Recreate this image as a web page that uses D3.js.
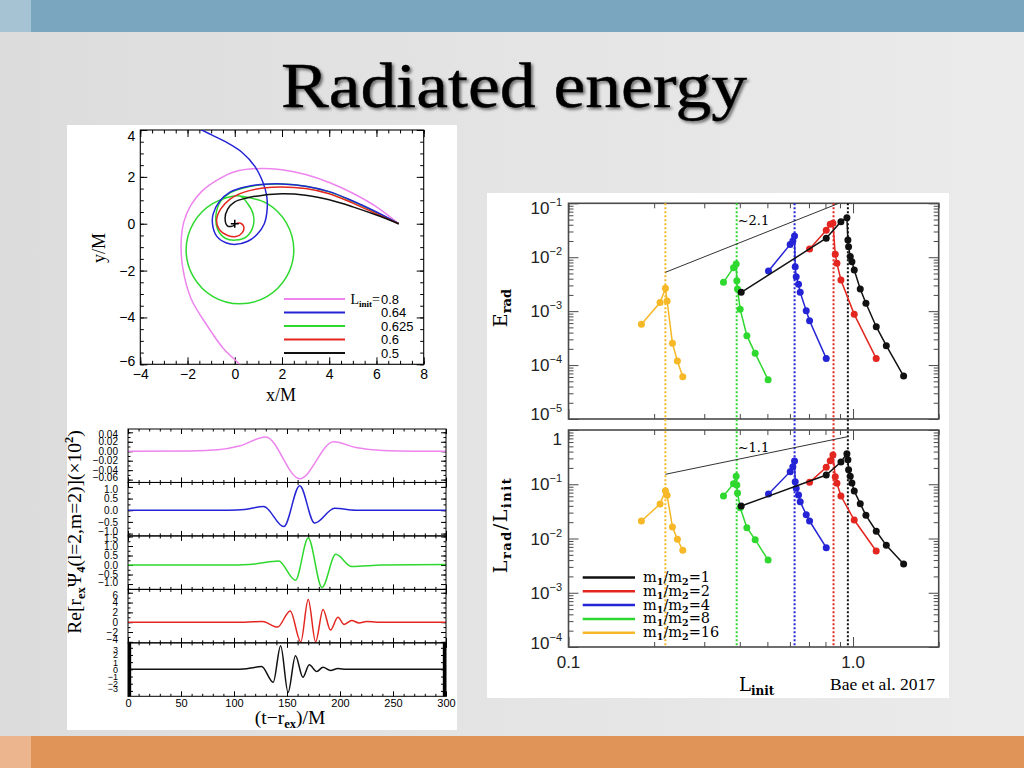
<!DOCTYPE html>
<html><head><meta charset="utf-8">
<script src="https://cdn.jsdelivr.net/npm/d3@7/dist/d3.min.js"></script>
<style>html,body{margin:0;padding:0;background:#e4e4e4}svg{display:block}</style>
</head><body><svg id="chart" width="1024" height="768"></svg>
<script>
// ================= DATA =================
const titleText = "Radiated energy";

// --- orbit panel: tracks in (x/M, y/M) for each L_init ---
const orbitLegendLabels = ["0.8", "0.64", "0.625", "0.6", "0.5"];
const orbitL080 = [[6.94,0],[6,0.72],[5,1.3],[4,1.76],[3,2.1],[2,2.3],[1.1,2.36],[0,2.22],[-0.75,1.86],[-1.4,1.38],[-1.85,0.8],[-2.15,0.1],[-2.27,-0.77],[-2.2,-1.9],[-1.85,-3.2],[-1.2,-4.3],[-0.5,-5.3],[0.3,-6.1],[0.6,-6.5]];
const orbitL064 = [[6.94,0],[6,0.5],[5,0.97],[4,1.37],[3,1.6],[2,1.7],[1.2,1.68],[0.5,1.58],[-0.2,1.35],[-0.65,0.95],[-0.92,0.4],[-0.93,-0.1],[-0.75,-0.55],[-0.35,-0.82],[0.05,-0.88],[0.55,-0.75],[0.95,-0.45],[1.25,0.0],[1.37,0.6],[1.35,1.2],[1.2,1.75],[0.85,2.45],[0.3,3.05],[-0.4,3.5],[-1.0,3.8],[-1.5,4.05],[-1.8,4.2]];
const orbitL0625 = [[6.94,0],[6,0.48],[5,0.95],[4,1.36],[3,1.6],[2,1.69],[1.2,1.67],[0.5,1.56],[-0.2,1.32],[-0.6,0.95],[-0.8,0.35],[-0.72,-0.25],[-0.4,-0.62],[0.05,-0.7],[0.5,-0.55],[0.78,-0.1],[0.78,0.4],[0.55,0.85],[0.22,1.18],[-0.92,0.87],[-1.75,0.03],[-2.06,-1.12],[-1.75,-2.27],[-0.92,-3.11],[0.22,-3.42],[1.36,-3.11],[2.19,-2.27],[2.5,-1.12],[2.19,0.03],[1.36,0.87],[0.22,1.18]];
const orbitL060 = [[6.94,0],[6,0.42],[5,0.88],[4,1.28],[3,1.5],[2,1.57],[1.2,1.52],[0.4,1.35],[-0.2,1.05],[-0.6,0.62],[-0.77,0.15],[-0.65,-0.25],[-0.3,-0.5],[0.05,-0.55],[0.32,-0.38],[0.38,-0.12],[0.25,0.02],[0.08,0.02]];
const orbitL050 = [[6.94,0],[6,0.37],[5,0.72],[4,1.02],[3,1.22],[2,1.28],[1.2,1.22],[0.5,1.1],[0.0,0.93],[-0.3,0.62],[-0.41,0.2],[-0.3,-0.1],[-0.05,-0.08],[0.0,0.0]];

// --- waveform panels: (t - r_ex)/M vs Re[r_ex Psi4] (x10^2) ---
const wavePink  = [[0,0],[60,0.0005],[85,0.003],[105,0.011],[130,0.030],[162,-0.058],[194,0.020],[215,0.008],[240,0.0015],[270,0],[300,0]];
const waveBlue  = [[0,0],[95,0.0],[110,0.03],[128,0.16],[147,-0.7],[162,1.05],[176,-0.55],[195,0.08],[215,0.0],[300,0]];
const waveGreen = [[0,0],[100,0.0],[120,0.06],[142,0.21],[158,-0.8],[170,1.42],[183,-1.18],[196,0.56],[211,-0.08],[240,0.0],[300,0.03]];
const waveRed   = [[0,0],[110,0.0],[127,0.15],[141,-1.0],[153,2.3],[163,-4.0],[170,4.6],[177,-4.0],[184,2.6],[191,-1.6],[198,1.0],[204,-0.45],[211,0.35],[218,-0.15],[225,0.15],[235,0],[300,0]];
const waveBlack = [[0,0],[100,0.0],[112,0.1],[126,0.38],[137,-1.8],[144,3.3],[151,-3.2],[158,1.9],[165,-1.1],[171,0.65],[178,-0.3],[184,0.3],[191,-0.15],[198,0.12],[206,0],[300,0]];
const waveYTicks = [[0.04,0.02,0,-0.02,-0.04,-0.06],[1,0.5,0,-0.5,-1],[1.5,1,0.5,0,-0.5,-1],[6,4,2,0,-2,-4],[3,2,1,0,-1,-2,-3]];
const waveXTicks = [0,50,100,150,200,250,300];

// --- radiated energy panels ---
const ratioLabels = ["1","2","4","8","16"];
const Lcrit = [0.959, 0.854, 0.623, 0.39, 0.219];
const q1L  = [0.4045,0.805,0.9066,0.9515,0.9593,0.9645,0.9776,0.9909,1.0098,1.0601,1.1099,1.2067,1.3089,1.5057];
const q1E  = [2.23e-3,2.25e-2,4.57e-2,5.42e-2,2.09e-2,1.57e-2,1.03e-2,8.28e-3,5.80e-3,2.57e-3,1.40e-3,5.15e-4,2.29e-4,6.27e-5];
const q1Lr = [3.97e-2,0.148,0.257,0.366,0.284,0.186,0.140,0.1054,7.51e-2,4.39e-2,2.67e-2,1.36e-2,7.48e-3,3.39e-3];
const q2L  = [0.7034,0.805,0.8315,0.8497,0.866,0.8777,0.9066,1.0097,1.206];
const q2E  = [1.42e-2,3.16e-2,4.07e-2,4.25e-2,1.13e-2,7.71e-3,3.79e-3,8.73e-4,1.33e-4];
const q2Lr = [0.1085,0.205,0.272,0.346,0.138,0.104,6.07e-2,2.19e-2,5.89e-3];
const q4L  = [0.5045,0.6013,0.6144,0.6228,0.6262,0.6313,0.6433,0.6521,0.6847,0.7034,0.805];
const q4E  = [5.55e-3,1.73e-2,2.00e-2,2.48e-2,6.68e-3,4.36e-3,3.14e-3,2.23e-3,1.02e-3,6.65e-4,1.33e-4];
const q4Lr = [6.61e-2,0.1706,0.211,0.268,0.1116,8.41e-2,6.34e-2,4.77e-2,2.75e-2,2.10e-2,6.78e-3];
const q8L  = [0.3505,0.3801,0.3884,0.3905,0.3926,0.4012,0.4235,0.4529,0.503];
const q8E  = [3.42e-3,6.40e-3,7.48e-3,3.67e-3,2.57e-3,1.08e-3,3.51e-4,1.65e-4,5.33e-5];
const q8Lr = [6.07e-2,0.1025,0.140,9.69e-2,6.90e-2,3.70e-2,1.58e-2,9.52e-3,4.01e-3];
const q16L  = [0.1804,0.2098,0.2191,0.2221,0.2319,0.2414,0.2521];
const q16E  = [5.69e-4,1.44e-3,2.65e-3,1.54e-3,2.53e-4,1.19e-4,6.08e-5];
const q16Lr = [2.10e-2,4.32e-2,7.62e-2,6.25e-2,1.63e-2,9.66e-3,6.05e-3];
const fitE = [[0.219,5.25e-3],[0.891,0.1]];
const fitLr = [[0.219,0.1525],[0.956,0.752]];
const fitLabels = ["~2.1","~1.1"];
const eTicks = [1e-1,1e-2,1e-3,1e-4,1e-5];
const eTickExp = ["−1","−2","−3","−4","−5"];
const lTicks = [1,1e-1,1e-2,1e-3,1e-4];
const lTickExp = ["","−1","−2","−3","−4"];
const xTicksR = [0.1,1.0];
const xTickLabelsR = ["0.1","1.0"];
const creditText = "Bae et al. 2017";

// ================= STYLE =================
const SERIF = "'Liberation Serif','DejaVu Serif',serif";
const DSERIF = "'DejaVu Serif','Liberation Serif',serif";
const SANS = "'Liberation Sans','DejaVu Sans',Arial,sans-serif";
const cPink="#ee84ee", cBlue="#2424d6", cGreen="#2ed82e", cRed="#e32620", cBlack="#111", cYellow="#f6b826";

const svg = d3.select("#chart");
const defs = svg.append("defs");
const bg = defs.append("linearGradient").attr("id","bg").attr("x1",0).attr("x2",1).attr("y1",0).attr("y2",0);
bg.append("stop").attr("offset","0%").attr("stop-color","#dcdcdc");
bg.append("stop").attr("offset","55%").attr("stop-color","#e5e5e5");
bg.append("stop").attr("offset","100%").attr("stop-color","#ebebeb");
svg.append("rect").attr("width",1024).attr("height",768).attr("fill","url(#bg)");
svg.append("rect").attr("x",0).attr("y",0).attr("width",1024).attr("height",32).attr("fill","#7ba6bf");
svg.append("rect").attr("x",0).attr("y",0).attr("width",31).attr("height",32).attr("fill","#a6c3d4");
svg.append("rect").attr("x",0).attr("y",736).attr("width",1024).attr("height",32).attr("fill","#e19457");
svg.append("rect").attr("x",0).attr("y",736).attr("width",31).attr("height",32).attr("fill","#ecb58d");

const sh = defs.append("filter").attr("id","shadow").attr("x","-10%").attr("y","-20%").attr("width","120%").attr("height","150%");
sh.append("feDropShadow").attr("dx",2).attr("dy",2).attr("stdDeviation",1.6).attr("flood-color","#000").attr("flood-opacity",0.55);
svg.append("text").attr("x",514).attr("y",107).attr("text-anchor","middle")
  .attr("font-family","'Liberation Serif','DejaVu Serif',serif").attr("font-size",64)
  .attr("textLength",466).attr("lengthAdjust","spacingAndGlyphs")
  .attr("stroke","#000").attr("stroke-width",0.4)
  .attr("filter","url(#shadow)").attr("fill","#000").text(titleText);

// white boxes
svg.append("rect").attr("x",67).attr("y",125).attr("width",390).attr("height",605).attr("fill","#fff");
svg.append("rect").attr("x",487).attr("y",193).attr("width",462).attr("height",505).attr("fill","#fff");

// rich text helper
function rich(g, x, y, parts, o) {
  const t = g.append("text").attr("x",x).attr("y",y).attr("font-family",o.family)
    .attr("font-size",o.size).attr("fill",o.fill||"#000").attr("text-anchor",o.anchor||"start");
  if (o.rotate) t.attr("transform",`rotate(${o.rotate},${x},${y})`);
  if (o.spacing) t.attr("letter-spacing",o.spacing);
  let cur = 0;
  parts.forEach(([s,m]) => {
    const off = m==="sub" ? o.subDy : m==="sup" ? -o.supDy : 0;
    const ts = t.append("tspan").attr("dy", off-cur).text(s);
    if (m) { ts.attr("font-size",o.small); if (o.smallBold) ts.attr("font-weight","bold"); }
    cur = off;
  });
  return t;
}
const minus = s => String(s).replace("-","−");

function styleAxis(g, size, family, color) {
  g.select(".domain").remove();
  g.attr("font-size",size).attr("font-family",family).attr("color",color||"#000");
}

// ================= ORBIT PANEL =================
const gO = svg.append("g");
const xO = d3.scaleLinear().domain([-4,8]).range([140.3,423.7]);
const yO = d3.scaleLinear().domain([-6,4]).range([364.3,130]);
defs.append("clipPath").attr("id","clipO").append("rect")
  .attr("x",xO(-4)).attr("y",yO(4)).attr("width",xO(8)-xO(-4)).attr("height",yO(-6)-yO(4));
const oxMaj = d3.range(-4,8.01,2), oxMin = d3.range(-4,8.01,0.5);
const oyMaj = d3.range(-6,4.01,2), oyMin = d3.range(-6,4.01,0.5);
[[d3.axisBottom, yO(-6), true],[d3.axisTop, yO(4), false]].forEach(([ax,ty,lab])=>{
  gO.append("g").attr("transform",`translate(0,${ty})`)
    .call(ax(xO).tickValues(oxMaj).tickSizeInner(-7).tickSizeOuter(0).tickPadding(5).tickFormat(lab? d=>minus(d):""))
    .call(g=>styleAxis(g,14,SANS,"#000"));
  gO.append("g").attr("transform",`translate(0,${ty})`)
    .call(ax(xO).tickValues(oxMin).tickSizeInner(-3.5).tickSizeOuter(0).tickFormat(""))
    .call(g=>styleAxis(g,14,SANS,"#000"));
});
[[d3.axisLeft, xO(-4), true],[d3.axisRight, xO(8), false]].forEach(([ax,tx,lab])=>{
  gO.append("g").attr("transform",`translate(${tx},0)`)
    .call(ax(yO).tickValues(oyMaj).tickSizeInner(-7).tickSizeOuter(0).tickPadding(5).tickFormat(lab? d=>minus(d):""))
    .call(g=>styleAxis(g,14,SANS,"#000"))
    .call(g=>{ if(lab){ g.selectAll(".tick text").attr("dy",d=> d===4? "0.75em" : d===-6 ? "0.1em" : "0.32em"); } });
  gO.append("g").attr("transform",`translate(${tx},0)`)
    .call(ax(yO).tickValues(oyMin).tickSizeInner(-3.5).tickSizeOuter(0).tickFormat(""))
    .call(g=>styleAxis(g,14,SANS,"#000"));
});
gO.append("rect").attr("x",xO(-4)).attr("y",yO(4)).attr("width",xO(8)-xO(-4)).attr("height",yO(-6)-yO(4))
  .attr("fill","none").attr("stroke","#000").attr("stroke-width",1.1);
const orbitSeries = [[orbitL080,cPink],[orbitL0625,cGreen],[orbitL064,cBlue],[orbitL060,cRed],[orbitL050,cBlack]];
const lineO = d3.line().x(d=>xO(d[0])).y(d=>yO(d[1])).curve(d3.curveCatmullRom.alpha(0.5));
const gOc = gO.append("g").attr("clip-path","url(#clipO)");
orbitSeries.forEach(([d,c])=>{
  gOc.append("path").datum(d).attr("d",lineO).attr("fill","none").attr("stroke",c).attr("stroke-width",1.5);
});
gO.append("path").attr("d",`M${xO(0)-4},${yO(0)}h8M${xO(0)},${yO(0)-4}v8`).attr("stroke","#000").attr("stroke-width",1.5);
// orbit legend
const legO = [[cPink,299],[cBlue,312.5],[cGreen,326],[cRed,339.5],[cBlack,353]];
legO.forEach(([c,y],i)=>{
  gO.append("line").attr("x1",284).attr("x2",345).attr("y1",y).attr("y2",y).attr("stroke",c).attr("stroke-width",2);
  if (i===0) {
    rich(gO, 380, y+4.5, [["L",""],["init","sub"],["=",""]], {family:SERIF,size:14,small:9,subDy:3,smallBold:true,anchor:"end"});
  }
  gO.append("text").attr("x",381).attr("y",y+4.5).attr("font-family",SANS).attr("font-size",13).text(orbitLegendLabels[i]);
});
gO.append("text").attr("x",281).attr("y",401).attr("text-anchor","middle").attr("font-family",SERIF).attr("font-size",18).text("x/M");
gO.append("text").attr("x",105).attr("y",248).attr("text-anchor","middle").attr("font-family",SERIF).attr("font-size",18)
  .attr("transform","rotate(-90,105,248)").text("y/M");

// ================= WAVEFORM PANELS =================
const gW = svg.append("g");
const xW = d3.scaleLinear().domain([0,300]).range([128,446]);
const wTop = 429, wH = 53.46;
const wavePanels = [
  {d:wavePink, c:cPink, dom:[-0.066,0.047], fmt:d3.format(".2f"), minor:0.01, fs:10},
  {d:waveBlue, c:cBlue, dom:[-1.1,1.19], fmt:d3.format(".1f"), minor:0.25, fs:10},
  {d:waveGreen,c:cGreen,dom:[-1.28,1.53], fmt:d3.format(".1f"), minor:0.25, fs:10},
  {d:waveRed,  c:cRed,  dom:[-4.2,6.68], fmt:d3.format("d"), minor:1, fs:10},
  {d:waveBlack,c:cBlack,dom:[-3.75,3.69], fmt:d3.format("d"), minor:0.5, fs:9}
];
const xWMin = d3.range(0,300.1,10);
wavePanels.forEach((p,i)=>{
  const y0 = wTop + i*wH, y1 = y0 + wH;
  const y = d3.scaleLinear().domain(p.dom).range([y1,y0]);
  const id = "clipW"+i;
  defs.append("clipPath").attr("id",id).append("rect").attr("x",xW(0)).attr("y",y0).attr("width",xW(300)-xW(0)).attr("height",wH);
  const g = gW.append("g");
  const minT = d3.range(Math.ceil(p.dom[0]/p.minor)*p.minor, p.dom[1]+1e-9, p.minor);
  const tv = waveYTicks[i], first = tv[0], last = tv[tv.length-1];
  [[d3.axisLeft,xW(0),true],[d3.axisRight,xW(300),false]].forEach(([ax,tx,lab])=>{
    g.append("g").attr("transform",`translate(${tx},0)`)
      .call(ax(y).tickValues(tv).tickSizeInner(-5).tickSizeOuter(0).tickPadding(10).tickFormat(lab? d=>minus(p.fmt(d)):""))
      .call(s=>styleAxis(s,p.fs,SANS,"#000"))
      .call(s=>{ if(lab){ s.selectAll(".tick text").attr("dy", d => d===first ? "0.55em" : d===last ? "0.1em" : "0.32em"); } });
    g.append("g").attr("transform",`translate(${tx},0)`)
      .call(ax(y).tickValues(minT).tickSizeInner(-2.5).tickSizeOuter(0).tickFormat(""))
      .call(s=>styleAxis(s,p.fs,SANS,"#000"));
  });
  [[d3.axisBottom,y1,i===4],[d3.axisTop,y0,false]].forEach(([ax,ty,lab])=>{
    g.append("g").attr("transform",`translate(0,${ty})`)
      .call(ax(xW).tickValues(waveXTicks).tickSizeInner(-5).tickSizeOuter(0).tickPadding(3).tickFormat(lab? d3.format("d"):""))
      .call(s=>styleAxis(s,11,SANS,"#000"));
    g.append("g").attr("transform",`translate(0,${ty})`)
      .call(ax(xW).tickValues(xWMin).tickSizeInner(-2.5).tickSizeOuter(0).tickFormat(""))
      .call(s=>styleAxis(s,11,SANS,"#000"));
  });
  const line = d3.line().x(d=>xW(d[0])).y(d=>y(d[1])).curve(d3.curveMonotoneX);
  g.append("path").datum(p.d).attr("clip-path",`url(#${id})`).attr("d",line).attr("fill","none").attr("stroke",p.c).attr("stroke-width",1.5);
  if (i===4) {
    g.append("rect").attr("x",xW(0)).attr("y",y0).attr("width",xW(3)-xW(0)).attr("height",wH).attr("fill","#000");
    g.append("rect").attr("x",xW(297)).attr("y",y0).attr("width",xW(300)-xW(297)).attr("height",wH).attr("fill","#000");
  }
  g.append("rect").attr("x",xW(0)).attr("y",y0).attr("width",xW(300)-xW(0)).attr("height",wH)
    .attr("fill","none").attr("stroke","#000").attr("stroke-width",1);
});
rich(gW, 81, 532, [["Re[r",""],["ex","sub"],["Ψ",""],["4","sub"],["(l=2,m=2)](×10",""],["2","sup"],[")",""]],
  {family:SERIF,size:19.5,small:12.5,subDy:4,supDy:8,smallBold:true,anchor:"middle",rotate:-90});
rich(gW, 290, 724, [["(t−r",""],["ex","sub"],[")/M",""]], {family:SERIF,size:19.5,small:12.5,subDy:4,smallBold:true,anchor:"middle"});

// ================= RADIATED ENERGY PANELS =================
const gR = svg.append("g");
const xR = d3.scaleLog().domain([0.1,2.0]).range([568.5,938.7]);
const yE = d3.scaleLog().domain([1e-5,1e-1]).range([419,203.3]);
const yL = d3.scaleLog().domain([1e-4,1]).range([647,430]);
const frameC = "#4a4a4a";
const xRMin = [0.2,0.3,0.4,0.5,0.6,0.7,0.8,0.9,2.0];
function decMinor(lo,hi){ const a=[]; for(let e=lo;e<hi;e++) for(let m=2;m<=9;m++) a.push(m*Math.pow(10,e)); return a; }
[[yE,eTicks,decMinor(-5,-1)],[yL,lTicks,decMinor(-4,0)]].forEach(([y,maj,min])=>{
  const [b,t] = y.range();
  [[d3.axisLeft,xR(0.1)],[d3.axisRight,xR(2.0)]].forEach(([ax,tx])=>{
    gR.append("g").attr("transform",`translate(${tx},0)`)
      .call(ax(y).tickValues(maj).tickSizeInner(-10).tickSizeOuter(0).tickFormat(""))
      .call(s=>styleAxis(s,12,SANS,frameC));
    gR.append("g").attr("transform",`translate(${tx},0)`)
      .call(ax(y).tickValues(min).tickSizeInner(-5).tickSizeOuter(0).tickFormat(""))
      .call(s=>styleAxis(s,12,SANS,frameC));
  });
  [[d3.axisBottom,b],[d3.axisTop,t]].forEach(([ax,ty])=>{
    gR.append("g").attr("transform",`translate(0,${ty})`)
      .call(ax(xR).tickValues(xTicksR).tickSizeInner(-10).tickSizeOuter(0).tickFormat(""))
      .call(s=>styleAxis(s,12,SANS,frameC));
    gR.append("g").attr("transform",`translate(0,${ty})`)
      .call(ax(xR).tickValues(xRMin).tickSizeInner(-5).tickSizeOuter(0).tickFormat(""))
      .call(s=>styleAxis(s,12,SANS,frameC));
  });
  gR.append("rect").attr("x",xR(0.1)).attr("y",t).attr("width",xR(2.0)-xR(0.1)).attr("height",b-t)
    .attr("fill","none").attr("stroke",frameC).attr("stroke-width",1.6);
});
// y tick labels
eTicks.forEach((v,i)=>{
  const nudge = i===0 ? 5 : i===eTicks.length-1 ? -5 : 0;
  rich(gR, 562, yE(v)+6+nudge, [["10",""],[eTickExp[i],"sup"]], {family:SANS,size:17,small:11,supDy:8,anchor:"end",fill:"#222"});
});
lTicks.forEach((v,i)=>{
  const nudge = i===0 ? 9 : i===lTicks.length-1 ? -4 : 0;
  const parts = lTickExp[i] ? [["10",""],[lTickExp[i],"sup"]] : [["1",""]];
  rich(gR, 562, yL(v)+6+nudge, parts, {family:SANS,size:17,small:11,supDy:8,anchor:"end",fill:"#222"});
});
xTicksR.forEach((v,i)=>{
  gR.append("text").attr("x",xR(v)).attr("y",668).attr("text-anchor","middle").attr("font-family",SANS)
    .attr("font-size",17).attr("fill","#222").text(xTickLabelsR[i]);
});
// critical L dotted lines
const seriesR = [
  {L:q16L,E:q16E,R:q16Lr,c:cYellow,crit:Lcrit[4]},
  {L:q8L, E:q8E, R:q8Lr, c:cGreen, crit:Lcrit[3]},
  {L:q4L, E:q4E, R:q4Lr, c:cBlue,  crit:Lcrit[2]},
  {L:q2L, E:q2E, R:q2Lr, c:cRed,   crit:Lcrit[1]},
  {L:q1L, E:q1E, R:q1Lr, c:cBlack, crit:Lcrit[0]}
];
seriesR.forEach(s=>{
  gR.append("line").attr("x1",xR(s.crit)).attr("x2",xR(s.crit)).attr("y1",yE.range()[1]).attr("y2",yL.range()[0])
    .attr("stroke",s.c).attr("stroke-width",2).attr("stroke-dasharray","2,2");
});
// fit lines
[[fitE,yE,0],[fitLr,yL,1]].forEach(([f,y,k])=>{
  gR.append("line").attr("x1",xR(f[0][0])).attr("y1",y(f[0][1])).attr("x2",xR(f[1][0])).attr("y2",y(f[1][1]))
    .attr("stroke","#333").attr("stroke-width",1);
  gR.append("text").attr("x",xR(0.39)+1).attr("y",y.range()[1]+22).attr("font-family",DSERIF).attr("font-size",13).text(fitLabels[k]);
});
// series
seriesR.forEach(s=>{
  [[s.E,yE],[s.R,yL]].forEach(([vals,y])=>{
    const pts = s.L.map((l,i)=>[l,vals[i]]);
    gR.append("path").datum(pts).attr("d",d3.line().x(d=>xR(d[0])).y(d=>y(d[1])))
      .attr("fill","none").attr("stroke",s.c).attr("stroke-width",1.5);
    gR.selectAll(null).data(pts).enter().append("circle")
      .attr("cx",d=>xR(d[0])).attr("cy",d=>y(d[1])).attr("r",3.5).attr("fill",s.c);
  });
});
// legend
const legR = [[cBlack,577.5],[cRed,591.3],[cBlue,605.1],[cGreen,618.9],[cYellow,632.7]];
legR.forEach(([c,y],i)=>{
  gR.append("line").attr("x1",582.7).attr("x2",635).attr("y1",y).attr("y2",y).attr("stroke",c).attr("stroke-width",2.5);
  rich(gR, 643, y+4.5, [["m",""],["1","sub"],["/m",""],["2","sub"],["="+ratioLabels[i],""]],
    {family:DSERIF,size:14.5,small:9.5,subDy:3,smallBold:true});
});
// axis titles
rich(gR, 507, 308, [["E",""],["rad","sub"]], {family:DSERIF,size:19,small:13,subDy:4,smallBold:true,anchor:"middle",rotate:-90});
rich(gR, 507, 525, [["L",""],["rad","sub"],["/L",""],["init","sub"]], {family:DSERIF,size:19,small:13,subDy:4,smallBold:true,anchor:"middle",rotate:-90,spacing:1.5});
rich(gR, 739, 691, [["L",""],["init","sub"]], {family:DSERIF,size:18,small:12,subDy:4,smallBold:true});
gR.append("text").attr("x",935).attr("y",690).attr("text-anchor","end").attr("font-family",SERIF).attr("font-size",17.5).text(creditText);
</script></body></html>
